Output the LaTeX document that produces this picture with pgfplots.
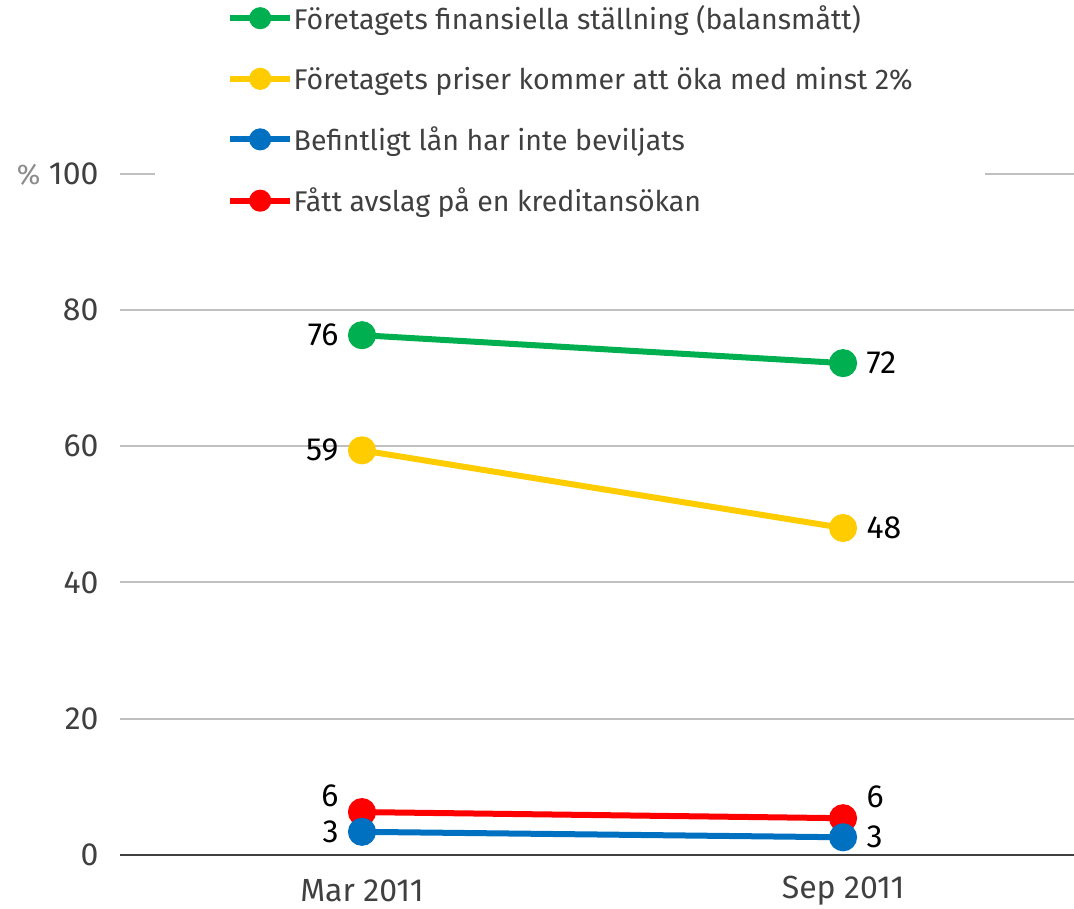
\documentclass[border=0pt]{standalone}
\usepackage{pgfplots}
\pgfplotsset{compat=1.18}
\usepackage{fontspec}
\setmainfont{Fira Sans}
\definecolor{cgreen}{RGB}{0,176,80}
\definecolor{cyellow}{RGB}{255,204,0}
\definecolor{cblue}{RGB}{0,112,192}
\definecolor{cred}{RGB}{255,0,0}
\definecolor{txt}{RGB}{64,64,64}
\definecolor{gridc}{RGB}{191,191,191}
\definecolor{pct}{RGB}{140,140,140}
\newcommand{\fs}{\fontsize{28.5bp}{32bp}\selectfont}
\newcommand{\fn}{\fontsize{32bp}{35bp}\selectfont}
\begin{document}
\begin{tikzpicture}
\useasboundingbox (-120bp,-54bp) rectangle (954bp,855bp);
\begin{axis}[
  at={(0bp,0bp)}, anchor=south west,
  scale only axis, width=954bp, height=681.25bp,
  xmin=-0.503, xmax=1.48, ymin=0, ymax=100,
  axis line style={draw=none},
  major tick length=0pt, tick style={draw=none},
  xtick={0,1}, xticklabels={Mar 2011, Sep 2011},
  ytick={20,40,60,80,100},
  yticklabels={20,40,60,80,{\textcolor{pct}{\fs\%}\ 100}},
  extra y ticks={0}, extra y tick labels={0},
  extra y tick style={grid style={draw=txt, line width=2bp}},
  ymajorgrids, grid style={draw=gridc, line width=2bp},
  /pgf/number format/assume math mode=true,
  ticklabel style={font=\fn, text=txt},
  yticklabel style={anchor=east, xshift=-18bp},
  xticklabel style={anchor=center, yshift=-36bp},
  legend style={at={(rel axis cs:0.0367,1.254)}, anchor=north west,
    fill=white, draw=none, inner xsep=72bp, inner ysep=4bp,
    row sep=35bp, font=\fs, text=txt,
    nodes={inner sep=0.5bp},
    cells={anchor=west}},
  legend image code/.code={\draw[mark repeat=2,mark phase=2,mark size=8bp] plot coordinates {(0bp,0bp)(30bp,0bp)(60bp,0bp)};},
  every axis plot/.append style={line width=6bp, mark=*, mark size=11bp, mark options={solid}},
]
\addlegendimage{cgreen, line width=6bp, mark=*, mark options={solid}}
\addlegendentry{Företagets finansiella ställning (balansmått)}
\addlegendimage{cyellow, line width=6bp, mark=*, mark options={solid}}
\addlegendentry{Företagets priser kommer att öka med minst 2\%}
\addlegendimage{cblue, line width=6bp, mark=*, mark options={solid}}
\addlegendentry{Befintligt lån har inte beviljats}
\addlegendimage{cred, line width=6bp, mark=*, mark options={solid}}
\addlegendentry{Fått avslag på en kreditansökan}

\addplot[cgreen, forget plot] coordinates {(0,76.3) (1,72.2)};
\addplot[cyellow, forget plot] coordinates {(0,59.4) (1,48.0)};
\addplot[cred, forget plot] coordinates {(0,6.3) (1,5.4)};
\addplot[cblue, forget plot] coordinates {(0,3.4) (1,2.6)};

\node[anchor=east, font=\fn, xshift=-20bp] at (axis cs:0,76.3) {76};
\node[anchor=west, font=\fn, xshift=20bp] at (axis cs:1,72.2) {72};
\node[anchor=east, font=\fn, xshift=-20bp] at (axis cs:0,59.4) {59};
\node[anchor=west, font=\fn, xshift=20bp] at (axis cs:1,48.0) {48};
\node[anchor=east, font=\fn, xshift=-20bp, yshift=16bp] at (axis cs:0,6.3) {6};
\node[anchor=west, font=\fn, xshift=20bp, yshift=21bp] at (axis cs:1,5.4) {6};
\node[anchor=east, font=\fn, xshift=-20bp] at (axis cs:0,3.4) {3};
\node[anchor=west, font=\fn, xshift=20bp] at (axis cs:1,2.6) {3};
\end{axis}
\end{tikzpicture}
\end{document}
